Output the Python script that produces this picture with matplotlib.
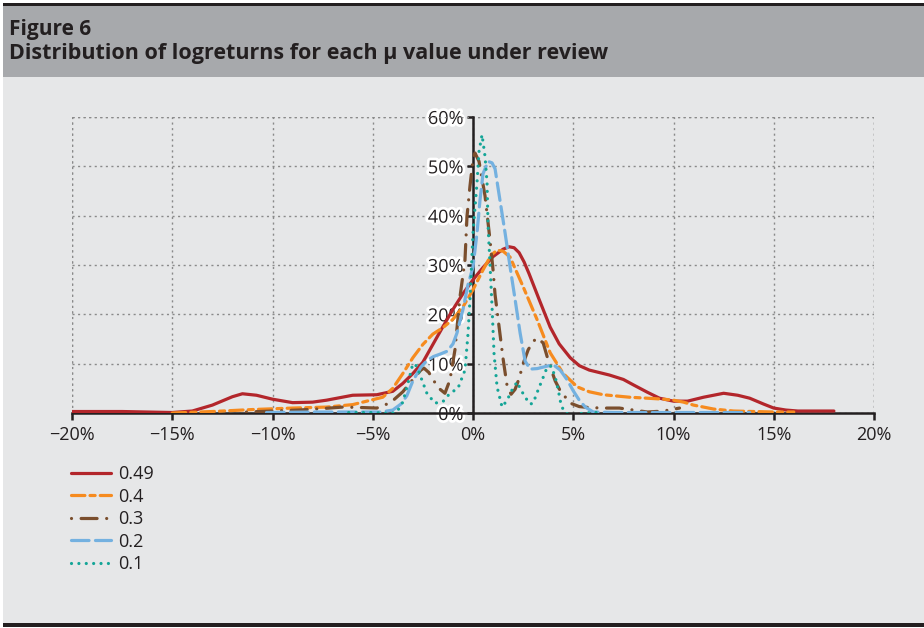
import matplotlib
matplotlib.use('Agg')
import matplotlib.pyplot as plt
import matplotlib.patheffects as pe
from matplotlib.patches import Rectangle
from matplotlib.ticker import FuncFormatter, MultipleLocator

plt.rcParams['font.family'] = ['Open Sans', 'DejaVu Sans']

# datos (x en %, densidad en %)
x_049 = [-20, -17.5, -15, -14, -13, -12, -11.5, -10.8, -10, -9, -8, -7.3, -6, -4.8,
         -4, -3.5, -3, -2.5, -2, -1.5, -1, -0.5, 0, 0.5, 1, 1.5, 1.8, 2.05, 2.3, 2.55,
         2.8, 3.3, 3.85, 4.3, 4.85, 5.3, 5.8, 6.8, 7.5, 8, 8.7, 9.3, 10, 10.7, 11.5,
         12.5, 13.2, 13.8, 14.5, 15, 15.6, 16.2, 17, 18]
y_049 = [0.3, 0.3, 0.1, 0.4, 1.6, 3.3, 3.9, 3.6, 2.8, 2.1, 2.2, 2.6, 3.6, 3.7,
         4.4, 6.0, 8.0, 10.3, 13.9, 17.5, 21.0, 24.2, 27.0, 29.5, 31.7, 33.2, 33.7, 33.5, 32.5, 30.6,
         28.2, 23.0, 17.4, 14.0, 11.2, 9.6, 8.7, 7.7, 6.8, 5.7, 4.2, 3.0, 2.4, 2.4, 3.2,
         4.0, 3.6, 3.0, 1.8, 1.0, 0.6, 0.4, 0.4, 0.4]

x_04 = [-15, -13, -11, -9, -7.3, -6, -5.1, -4.5, -4, -3.5, -3, -2.5, -2, -1.5, -1,
        -0.5, 0, 0.5, 0.9, 1.2, 1.5, 1.85, 2.5, 3.2, 3.85, 4.5, 5.2, 5.8, 6.5, 7.8,
        8.7, 9.5, 10, 10.5, 11, 12, 13, 14, 15, 16]
y_04 = [0.0, 0.3, 0.7, 1.0, 1.2, 1.7, 2.6, 3.2, 5.0, 8.0, 11.2, 13.9, 16.0, 17.3, 19.0,
        21.5, 25.0, 29.0, 32.0, 33.0, 32.8, 31.6, 25.6, 18.9, 12.2, 8.0, 5.3, 4.3, 3.7, 3.2,
        3.0, 2.8, 2.6, 2.2, 1.6, 0.8, 0.4, 0.3, 0.2, 0.2]

x_03 = [-11.3, -10, -8.7, -7.5, -6.5, -5.5, -4.8, -4.3, -4, -3.5, -3, -2.6, -2.45,
        -2.2, -2.05, -1.7, -1.4, -1.15, -0.9, -0.65, -0.4, -0.3, -0.15, 0, 0.1, 0.3,
        0.6, 0.85, 1.0, 1.1, 1.3, 1.5, 1.7, 1.9, 2.1, 2.3, 2.5, 2.75, 3.0, 3.2, 3.5,
        3.8, 4.1, 4.35, 4.85, 5.3, 5.8, 6.5, 7.3, 8, 8.7, 9.5, 10.3]
y_03 = [0.2, 0.4, 0.6, 0.9, 1.2, 1.1, 1.0, 1.8, 2.5, 4.3, 6.8, 8.7, 9.1,
        8.2, 7.1, 5.0, 4.0, 6.7, 12.8, 23.5, 31.0, 39.8, 46.0, 51.5, 52.7, 51.0,
        44.0, 35.0, 29.0, 24.0, 17.5, 11.0, 5.5, 3.8, 4.8, 7.0, 10.0, 12.8, 14.5, 15.2, 14.2,
        10.0, 6.5, 4.5, 2.0, 1.3, 1.1, 1.0, 1.0, 0.6, 0.2, 0.4, 1.0]

x_02 = [-10.3, -8, -6, -4.6, -4, -3.6, -3.3, -3, -2.6, -2.3, -2, -1.6, -1.3, -1.0,
        -0.8, -0.5, -0.25, 0, 0.2, 0.35, 0.5, 0.75, 0.95, 1.1, 1.35, 1.6, 1.85, 2.1,
        2.35, 2.6, 2.85, 3.2, 3.5, 4, 4.35, 4.7, 5, 5.3, 5.6, 6, 7, 8, 10, 12, 13.8]
y_02 = [0.1, 0.2, 0.2, 0.2, 0.6, 1.8, 3.5, 6.5, 9.3, 10.6, 11.4, 12.0, 12.5, 14.0,
        16.2, 21.0, 26.0, 29.6, 36.5, 43.2, 48.5, 51.0, 50.7, 49.5, 43.0, 36.5, 29.6, 23.0,
        16.2, 10.5, 8.9, 9.0, 9.3, 9.8, 8.7, 6.7, 4.5, 2.6, 1.2, 0.2, 0.1, 0.1, 0.1, 0.1, 0.1]

x_01 = [-6.2, -5, -4.1, -3.8, -3.5, -3.2, -3, -2.8, -2.55, -2.3, -1.9, -1.5, -1.15,
        -0.75, -0.4, -0.25, -0.15, 0, 0.2, 0.3, 0.45, 0.6, 0.7, 0.75, 0.85, 0.95, 1.05,
        1.2, 1.45, 1.7, 1.95, 2.2, 2.35, 2.6, 2.85, 3.0, 3.25, 3.45, 3.7, 3.9, 4.1,
        4.25, 4.4, 4.6, 5, 5.5, 6.2]
y_01 = [0.1, 0.1, -0.1, 0.2, 2.2, 6.7, 10.0, 9.5, 6.7, 4.0, 2.0, 2.3, 4.0,
        5.0, 8.7, 16.0, 23.0, 36.5, 46.7, 53.0, 56.4, 52.0, 46.7, 38.0, 30.0, 21.5, 12.0,
        5.3, 1.2, 2.6, 4.7, 6.3, 5.0, 3.2, 1.8, 2.0, 4.7, 6.7, 9.3, 9.5, 7.3,
        4.7, 1.5, 0.0, -0.5, 0.0, 0.1]

series = [
    ('0.49', x_049, y_049, '#B3262B', '-'),
    ('0.4', x_04, y_04, '#F68B1F', (0, (4.2, 1.6, 1.6, 1.6))),
    ('0.3', x_03, y_03, '#7A4E2D', (0, (0.01, 3.0, 5.0, 3.0))),
    ('0.2', x_02, y_02, '#74B1E0', (0, (5.5, 2.0))),
    ('0.1', x_01, y_01, '#14A597', (0, (0.01, 2.3))),
]

W, H = 924, 628
fig = plt.figure(figsize=(W / 100, H / 100), dpi=100)
fig.patch.set_facecolor('white')


def fx(px):
    return px / W


def fy(py):
    return 1 - py / H


# fondo y cabecera
fig.add_artist(Rectangle((fx(3), fy(626)), fx(W) - fx(3), fy(6) - fy(626),
                         transform=fig.transFigure, facecolor='#E6E7E8', edgecolor='none', zorder=0))
fig.add_artist(Rectangle((fx(3), fy(77)), 1 - fx(3), fy(6) - fy(77),
                         transform=fig.transFigure, facecolor='#A7A9AC', edgecolor='none', zorder=0))
fig.add_artist(Rectangle((fx(3), fy(6)), 1 - fx(3), fy(3) - fy(6),
                         transform=fig.transFigure, facecolor='#231F20', edgecolor='none', zorder=1))
fig.add_artist(Rectangle((fx(3), fy(627)), 1 - fx(3), fy(623) - fy(627),
                         transform=fig.transFigure, facecolor='#231F20', edgecolor='none', zorder=1))

fig.text(fx(9), fy(35), 'Figure 6', fontsize=15, fontweight='bold', color='#231F20', va='baseline')
fig.text(fx(9), fy(59), 'Distribution of logreturns for each \u00b5 value under review',
         fontsize=15.5, fontweight='bold', color='#231F20', va='baseline')

ax = fig.add_axes([fx(72), fy(413), fx(874) - fx(72), fy(117) - fy(413)])
ax.set_facecolor('none')

for label, xs, ys, color, ls in series:
    ax.plot(xs, ys, color=color, linestyle=ls, linewidth=2.3, label=label,
            dash_capstyle='round', solid_capstyle='round', zorder=3)

ax.set_xlim(-20, 20)
ax.set_ylim(0, 60)
ax.xaxis.set_major_locator(MultipleLocator(5))
ax.yaxis.set_major_locator(MultipleLocator(10))
ax.xaxis.set_major_formatter(FuncFormatter(lambda v, p: f'{v:.0f}%'.replace('-', '\u2212')))
ax.yaxis.set_major_formatter(FuncFormatter(lambda v, p: f'{v:.0f}%'))

ax.grid(True, color='#8A8A8A', linestyle=(0, (1.5, 2.5)), linewidth=1.0, zorder=1)
ax.set_axisbelow(True)
for s in ['top', 'right']:
    ax.spines[s].set_visible(False)
ax.spines['left'].set_position(('data', 0))
ax.spines['left'].set_color('#231F20')
ax.spines['bottom'].set_color('#231F20')
ax.spines['left'].set_linewidth(1.8)
ax.spines['bottom'].set_linewidth(1.8)
ax.spines['left'].set_zorder(2)
ax.spines['bottom'].set_zorder(2)
# bordes punteados
ax.axhline(60, color='#8A8A8A', linestyle=(0, (1.5, 2.5)), linewidth=1.0, zorder=1)
ax.axvline(20, color='#8A8A8A', linestyle=(0, (1.5, 2.5)), linewidth=1.0, zorder=1)
ax.axvline(-20, color='#8A8A8A', linestyle=(0, (1.5, 2.5)), linewidth=1.0, zorder=1)

ax.tick_params(axis='x', direction='out', length=5, width=1.8, color='#231F20',
               labelsize=13, labelcolor='#231F20', pad=4)
ax.tick_params(axis='y', direction='out', length=4, width=1.8, color='#231F20',
               labelsize=13, labelcolor='#231F20', pad=3)
for t in ax.get_yticklabels():
    t.set_path_effects([pe.withStroke(linewidth=4, foreground='white')])
    t.set_zorder(5)

leg = fig.legend(loc='upper left', bbox_to_anchor=(fx(71), fy(465)), frameon=False,
                 fontsize=13, handlelength=2.2, handletextpad=0.4, labelspacing=0.25,
                 borderaxespad=0, borderpad=0)
for t in leg.get_texts():
    t.set_color('#231F20')

fig.savefig('out.png', dpi=100, facecolor=fig.get_facecolor())
